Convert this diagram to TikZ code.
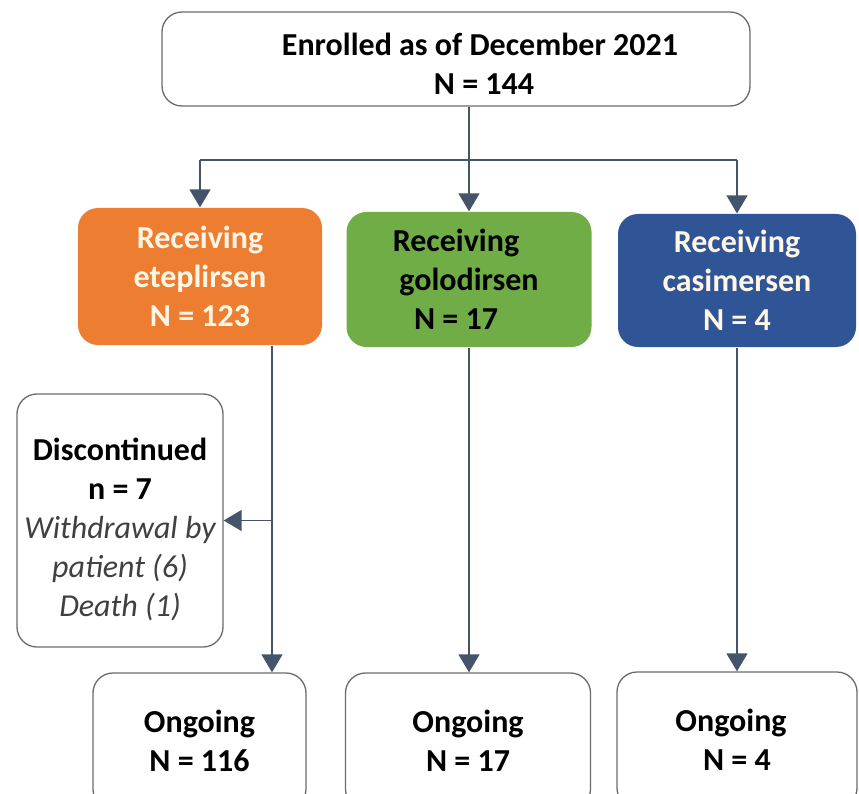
\documentclass[tikz,border=0pt]{standalone}
\usepackage{fontspec}
\setmainfont{Carlito}
\usetikzlibrary{arrows.meta}

\definecolor{etepOrange}{HTML}{ED7D31}
\definecolor{goloGreen}{HTML}{70AD47}
\definecolor{casiBlue}{HTML}{2F5597}
\definecolor{arrowSlate}{HTML}{44546A}
\definecolor{edgeGray}{HTML}{6B6B6B}
\definecolor{textCream}{HTML}{FFF6E6}

% line helpers: raise the first line / push a line sideways
\newcommand{\lift}[1]{\rule{0pt}{#1}}
\newcommand{\padline}[1]{\hspace*{#1}}

\begin{document}
\begin{tikzpicture}[x=1pt, y=-1pt,
        box/.style={draw=edgeGray, line width=1.3pt, rounded corners=20pt,
            align=center, inner sep=0pt,
            font=\fontsize{32}{39}\selectfont\bfseries},
        drug/.style={box, draw=none, fill=#1, text=textCream},
        note/.style={font=\mdseries\itshape, text=black!75},
        link/.style={draw=arrowSlate, line width=1.5pt,
            -{Triangle[width=21pt, length=18pt]}}]
        \useasboundingbox (0,0) rectangle (859,794);

        % ENROLLED
        \node[box, minimum width=588, minimum height=94] (enrol) at (456,59)
            {\lift{32pt}\padline{48pt}Enrolled as of December 2021\\\padline{56pt}N = 144};

        % TREATMENT ARMS
        \node[drug=etepOrange, minimum width=244, minimum height=137] (etep) at (200,276.5)
            {Receiving\\eteplirsen\\N = 123};
        \node[drug=goloGreen, text=black, minimum width=245, minimum height=135] (golo) at (469,279.5)
            {Receiving\padline{26pt}\\golodirsen\padline{26pt}\\N = 17\padline{26pt}};
        \node[drug=casiBlue, minimum width=238, minimum height=133] (casi) at (737,280.5)
            {Receiving\\casimersen\\N = 4};

        % DISCONTINUED
        \node[box, minimum width=206, minimum height=253] (disc) at (120,520.5)
            {\lift{40pt}Discontinued\\n = 7\\
             {\mdseries\itshape\color{black!75} Withdrawal by}\\
             {\mdseries\itshape\color{black!75} patient (6)}\\
             {\mdseries\itshape\color{black!75} Death (1)}};

        % ONGOING
        \node[box, minimum width=213, minimum height=136] (ong1) at (199.5,741) {Ongoing\\N = 116};
        \node[box, minimum width=245, minimum height=136] (ong2) at (468,741) {Ongoing\\N = 17};
        \node[box, minimum width=240, minimum height=136] (ong3) at (737,740)
            {Ongoing\padline{12pt}\\N = 4};

        % CONNECTORS
        \coordinate (split) at (469,160);
        \draw[link] (enrol.south -| golo.north) -- (golo.north);
        \draw[arrowSlate, line width=1.5pt] (split -| etep.north) -- (split -| casi.north);
        \draw[link] (split -| etep.north) -- (etep.north);
        \draw[link] (split -| casi.north) -- (casi.north);

        \draw[link] ([xshift=72]etep.south) -- ([xshift=72]etep.south |- ong1.north);
        \draw[link] ([xshift=72]etep.south |- disc.east) -- (disc.east);
        \draw[link] (golo.south) -- (golo.south |- ong2.north);
        \draw[link] (casi.south) -- (casi.south |- ong3.north);
    \end{tikzpicture}
\end{document}
